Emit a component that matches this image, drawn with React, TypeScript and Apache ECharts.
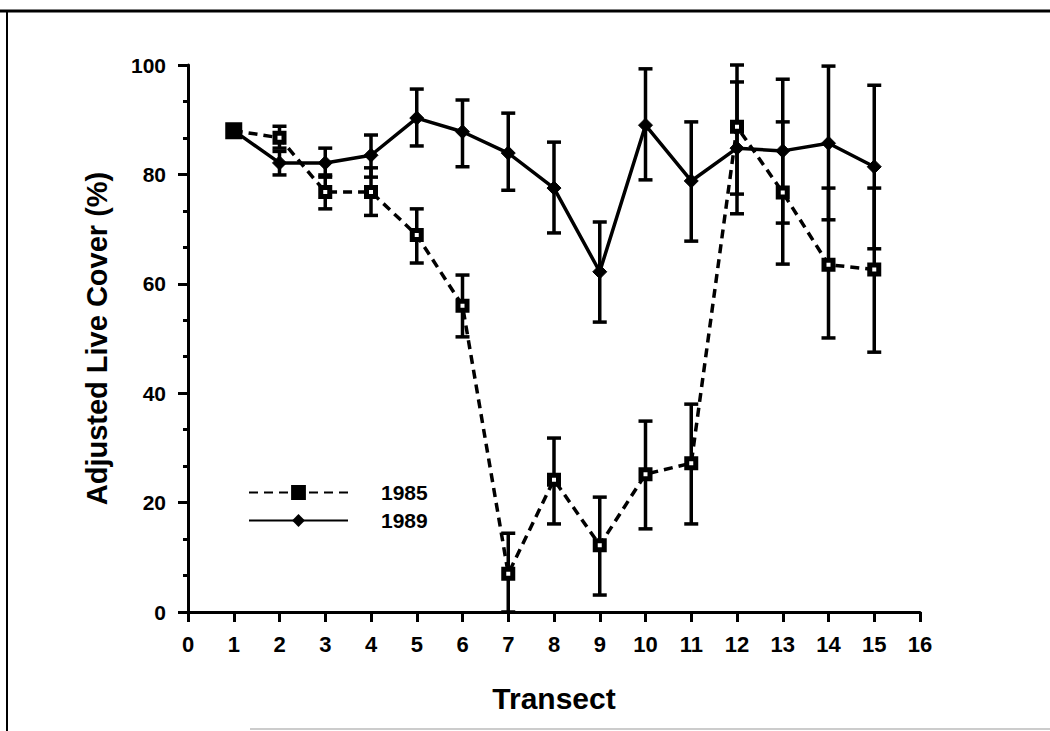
import React, { useEffect, useRef } from "react";
import * as echarts from "echarts";

const transects = [1, 2, 3, 4, 5, 6, 7, 8, 9, 10, 11, 12, 13, 14, 15];
const cover1985 = [88, 86.7, 76.8, 76.8, 68.9, 56, 7, 24.2, 12.2, 25.2, 27.2, 88.7, 76.7, 63.5, 62.6];
const low1985 = [null, 84.8, 73.7, 72.5, 63.8, 50.3, 0, 16.1, 3.1, 15.2, 16.1, 76.4, 63.6, 50.1, 47.5];
const high1985 = [null, 88.8, 79.9, 81.2, 73.7, 61.6, 14.4, 31.8, 21, 34.9, 38, 100, 89.6, 77.5, 77.5];
const cover1989 = [88, 82.1, 82.1, 83.5, 90.3, 87.8, 83.9, 77.5, 62.2, 89, 78.8, 84.8, 84.3, 85.7, 81.4];
const low1989 = [null, 79.9, 79.5, 79.5, 85.2, 81.4, 77.1, 69.3, 53, 79, 67.8, 72.8, 71.1, 71.7, 66.4];
const high1989 = [null, 84.2, 84.8, 87.2, 95.6, 93.6, 91.2, 85.9, 71.3, 99.3, 89.6, 96.9, 97.4, 99.8, 96.3];

const FONT = "Liberation Sans";

function errData(lows: (number | null)[], highs: (number | null)[]) {
  const out: number[][] = [];
  transects.forEach((t, i) => {
    if (lows[i] != null && highs[i] != null) out.push([t, lows[i] as number, highs[i] as number]);
  });
  return out;
}

function renderErr(params: any, api: any) {
  const x = api.value(0);
  const lo = api.coord([x, api.value(1)]);
  const hi = api.coord([x, api.value(2)]);
  const hw = 7;
  const style = { stroke: "#000", lineWidth: 3.5 };
  return {
    type: "group",
    children: [
      { type: "line", shape: { x1: lo[0], y1: lo[1], x2: hi[0], y2: hi[1] }, style },
      { type: "line", shape: { x1: lo[0] - hw, y1: lo[1], x2: lo[0] + hw, y2: lo[1] }, style },
      { type: "line", shape: { x1: hi[0] - hw, y1: hi[1], x2: hi[0] + hw, y2: hi[1] }, style },
    ],
  };
}

export default function App() {
  const ref = useRef<HTMLDivElement>(null);
  useEffect(() => {
    if (!ref.current) return;
    const chart = echarts.init(ref.current, null, { renderer: "svg" });
    const d1985 = transects.map((t, i) =>
      i === 0
        ? { value: [t, cover1985[i]], symbolSize: 12, itemStyle: { color: "#000" } }
        : { value: [t, cover1985[i]] }
    );
    const d1989 = transects.map((t, i) => [t, cover1989[i]]);
    chart.setOption({
      animation: false,
      backgroundColor: "#fff",
      grid: { left: 188, right: 130, top: 65, bottom: 119 },
      graphic: [
        { type: "line", shape: { x1: 0, y1: 11, x2: 1050, y2: 11 }, style: { stroke: "#000", lineWidth: 3 } },
        { type: "line", shape: { x1: 7, y1: 10, x2: 7, y2: 731 }, style: { stroke: "#000", lineWidth: 2 } },
        { type: "line", shape: { x1: 250, y1: 729, x2: 1050, y2: 729 }, style: { stroke: "#999", lineWidth: 1 } },
      ],
      legend: {
        left: 243,
        top: 477,
        orient: "vertical",
        itemWidth: 99,
        itemHeight: 16,
        itemGap: 7,
        data: [
          { name: "1985", itemStyle: { color: "#000", borderColor: "#000" } },
          { name: "1989" },
        ],
        textStyle: { fontFamily: FONT, fontSize: 21, fontWeight: "bold", color: "#000", padding: [0, 0, 0, 28] },
      },
      xAxis: {
        type: "value",
        min: 0,
        max: 16,
        interval: 1,
        name: "Transect",
        nameLocation: "middle",
        nameGap: 71,
        nameTextStyle: { fontFamily: FONT, fontSize: 30, fontWeight: "bold", color: "#000" },
        axisLine: { show: true, lineStyle: { color: "#000", width: 3 } },
        axisTick: { show: true, length: 10, lineStyle: { color: "#000", width: 3 } },
        axisLabel: { fontFamily: FONT, fontSize: 22, fontWeight: "bold", color: "#000", margin: 21 },
        splitLine: { show: false },
      },
      yAxis: {
        type: "value",
        min: 0,
        max: 100,
        interval: 20,
        name: "Adjusted Live Cover (%)",
        nameLocation: "middle",
        nameGap: 77,
        nameRotate: 90,
        nameTextStyle: { fontFamily: FONT, fontSize: 29, fontWeight: "bold", color: "#000" },
        axisLine: { show: true, lineStyle: { color: "#000", width: 3 } },
        axisTick: { show: true, length: 10, lineStyle: { color: "#000", width: 3 } },
        minorTick: { show: true, splitNumber: 3, length: 5, lineStyle: { color: "#000", width: 3 } },
        axisLabel: { fontFamily: FONT, fontSize: 21, fontWeight: "bold", color: "#000", margin: 22 },
        splitLine: { show: false },
      },
      series: [
        {
          type: "custom",
          name: "err1985",
          renderItem: renderErr,
          data: errData(low1985, high1985),
          encode: { x: 0, y: [1, 2] },
          z: 2,
        },
        {
          type: "custom",
          name: "err1989",
          renderItem: renderErr,
          data: errData(low1989, high1989),
          encode: { x: 0, y: [1, 2] },
          z: 2,
        },
        {
          type: "line",
          name: "1989",
          data: d1989,
          symbol: "diamond",
          symbolSize: 14,
          lineStyle: { color: "#000", width: 3.5 },
          itemStyle: { color: "#000", borderColor: "#000" },
          z: 3,
        },
        {
          type: "line",
          name: "1985",
          data: d1985,
          symbol: "rect",
          symbolSize: 9,
          lineStyle: { color: "#000", width: 3.5, type: [9, 6] },
          itemStyle: { color: "#fff", borderColor: "#000", borderWidth: 5 },
          z: 4,
        },
      ],
    });
    return () => chart.dispose();
  }, []);
  return <div ref={ref} style={{ position: "absolute", left: 0, top: 0, width: 1050, height: 731 }} />;
}
